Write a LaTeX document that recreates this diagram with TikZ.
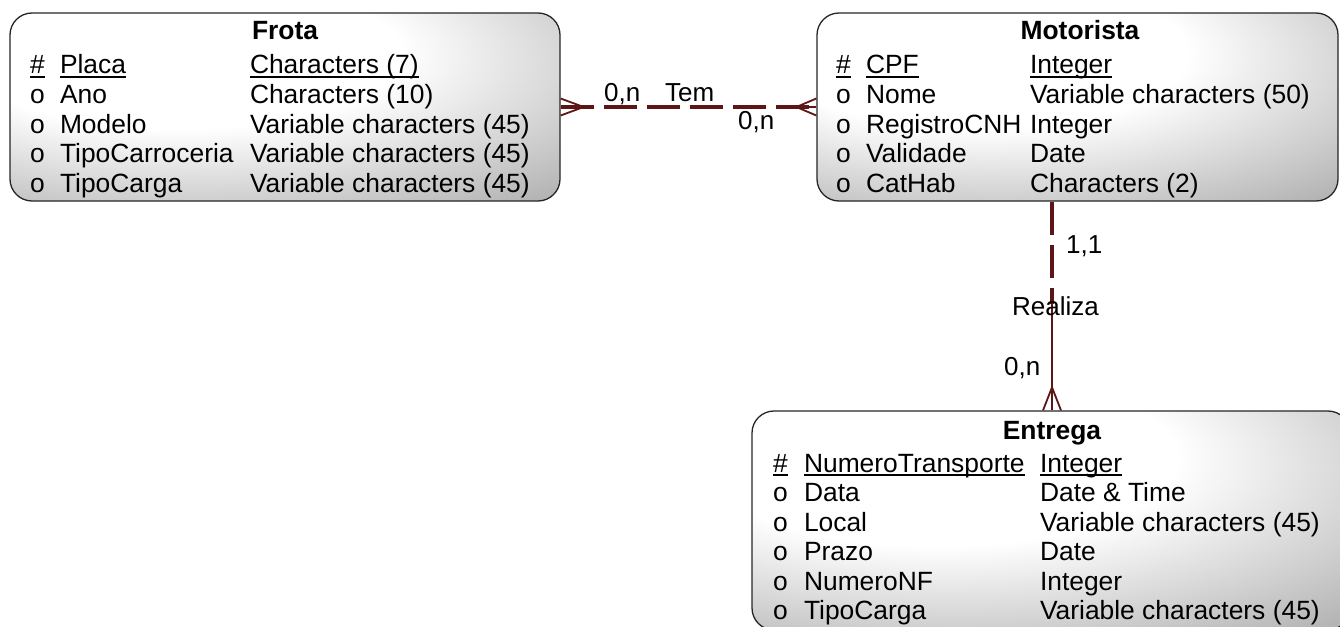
\documentclass[tikz,border=0pt]{standalone}
\usepackage{fontspec}
\setmainfont{Liberation Sans}
\usetikzlibrary{calc}
\definecolor{relcol}{RGB}{92,22,22}
\pgfdeclareradialshading{boxshade}{\pgfpoint{-12bp}{18bp}}{color(0bp)=(white);color(20bp)=(white);color(58bp)=(black!45);color(95bp)=(black!55)}
\newsavebox\ulbox
\newcommand\keyul[1]{\sbox\ulbox{#1}\rlap{\rule[-4pt]{\wd\ulbox}{1.7pt}}\usebox\ulbox}
\begin{document}
\begin{tikzpicture}[x=1pt,y=-1pt,
 entity/.style={draw=black!85, line width=1.3pt, rounded corners=22pt, shade, shading=boxshade, rectangle, inner sep=0pt},
 txt/.style={anchor=base west, inner sep=0pt, outer sep=0pt, font=\fontsize{26.4}{29.5}\selectfont},
 ttl/.style={anchor=base, inner sep=0pt, font=\fontsize{26.4}{29.5}\selectfont\bfseries},
 rel/.style={draw=relcol, line width=3.6pt, dash pattern=on 33pt off 10pt},
 relthin/.style={draw=relcol, line width=1.8pt},
 foot/.style={draw=relcol, line width=1.8pt},
 lbl/.style={anchor=base west, inner sep=0pt, font=\fontsize{26}{29}\selectfont}]
\useasboundingbox (0,0) rectangle (1340,626);
\fill[white] (0,0) rectangle (1340,626);

% entities
\node[entity, minimum width=550pt, minimum height=188pt] (frota) at (285,107) {};
\node[entity, minimum width=521pt, minimum height=188pt] (motorista) at (1077.5,107) {};
\node[entity, minimum width=598pt, minimum height=219pt] (entrega) at (1051,520.5) {};

% Frota
\node[ttl] (frota-t) at (285,40) {Frota};
\foreach \k/\a/\b/\c in {0/{\keyul{\#}}/{\keyul{Placa}}/{\keyul{Characters (7)}},
  1/o/Ano/{Characters (10)},
  2/o/Modelo/{Variable characters (45)},
  3/o/TipoCarroceria/{Variable characters (45)},
  4/o/TipoCarga/{Variable characters (45)}}{
 \node[txt] (frota-s\k) at (30,74+29.5*\k) {\a};
 \node[txt] (frota-n\k) at (60,74+29.5*\k) {\b};
 \node[txt] (frota-y\k) at (250,74+29.5*\k) {\c};
}

% Motorista
\node[ttl] (mot-t) at (1080,40) {Motorista};
\foreach \k/\a/\b/\c in {0/{\keyul{\#}}/{\keyul{CPF}}/{\keyul{Integer}},
  1/o/Nome/{Variable characters (50)},
  2/o/RegistroCNH/{Integer},
  3/o/Validade/{Date},
  4/o/CatHab/{Characters (2)}}{
 \node[txt] (mot-s\k) at (836,74+29.5*\k) {\a};
 \node[txt] (mot-n\k) at (866,74+29.5*\k) {\b};
 \node[txt] (mot-y\k) at (1030,74+29.5*\k) {\c};
}

% Entrega
\node[ttl] (ent-t) at (1052,439) {Entrega};
\foreach \k/\a/\b/\c in {0/{\keyul{\#}}/{\keyul{NumeroTransporte}}/{\keyul{Integer}},
  1/o/Data/{Date \& Time},
  2/o/Local/{Variable characters (45)},
  3/o/Prazo/{Date},
  4/o/NumeroNF/{Integer},
  5/o/TipoCarga/{Variable characters (45)}}{
 \node[txt] (ent-s\k) at (773,472+29.5*\k) {\a};
 \node[txt] (ent-n\k) at (804,472+29.5*\k) {\b};
 \node[txt] (ent-y\k) at (1040,472+29.5*\k) {\c};
}

% relationship Tem
\draw[rel] (frota.east) -- (motorista.west);
\draw[foot] ($(frota.east)+(0,-8.5)$) -- ($(frota.east)+(23,0)$) -- ($(frota.east)+(0,8.5)$);
\draw[foot] (frota.east) -- ($(frota.east)+(23,0)$);
\draw[foot] ($(motorista.west)+(0,-8.5)$) -- ($(motorista.west)+(-20,0)$) -- ($(motorista.west)+(0,8.5)$);
\draw[foot] (motorista.west) -- ($(motorista.west)+(-20,0)$);
\node[lbl] (tem-c1) at (604,101) {0,n};
\node[lbl] (tem) at (665,101) {Tem};
\node[lbl] (tem-c2) at (738,129) {0,n};

% relationship Realiza
\coordinate (xv) at (1052,0);
\coordinate (mS) at (motorista.south -| xv);
\coordinate (eN) at (entrega.north -| xv);
\coordinate (mid) at ($(mS)!0.49!(eN)$);
\draw[rel] (mS) -- (mid);
\draw[relthin] (mid) -- (eN);
\draw[foot] ($(eN)+(-9,0)$) -- ($(eN)+(0,-23)$) -- ($(eN)+(9,0)$);
\node[lbl] (rea-c1) at (1066,253) {1,1};
\node[lbl] (rea) at (1012,315) {Realiza};
\node[lbl] (rea-c2) at (1004,375) {0,n};
\end{tikzpicture}
\end{document}
